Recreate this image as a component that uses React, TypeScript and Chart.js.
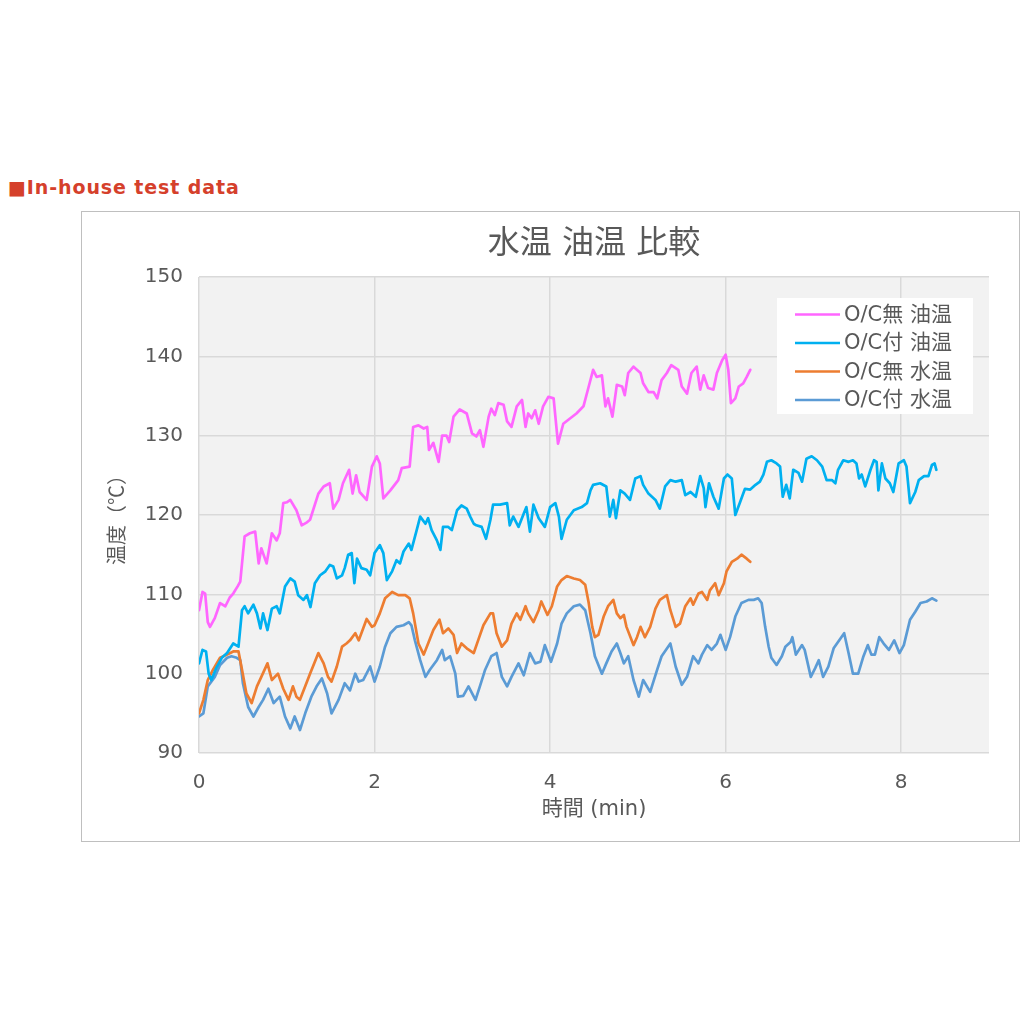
import React, { useEffect, useRef } from "react";
import { Chart, registerables } from "chart.js";

Chart.register(...registerables);

const FONT_UI = '"DejaVu Sans", "Noto Sans CJK JP", sans-serif';
const FONT_CJK = '"Noto Sans CJK JP", sans-serif';
const TEXT = "#595959";

const chartTitle = "水温 油温 比較";
const xTitle = "時間 (min)";
const yTitle = "温度（℃）";
const seriesLabels = ["O/C無 油温", "O/C付 油温", "O/C無 水温", "O/C付 水温"];
const seriesColors = ["#FF66FF", "#00B0F0", "#ED7D31", "#5B9BD5"];

// O/C無 油温
const pinkX = [0, 0.04, 0.07, 0.1, 0.125, 0.18, 0.24, 0.3, 0.35, 0.39, 0.44, 0.47, 0.52, 0.58, 0.64, 0.68, 0.71, 0.77, 0.83, 0.885, 0.92, 0.96, 1.0, 1.04, 1.11, 1.17, 1.22, 1.265, 1.36, 1.42, 1.49, 1.53, 1.59, 1.64, 1.71, 1.75, 1.79, 1.83, 1.91, 1.97, 2.025, 2.06, 2.1, 2.18, 2.27, 2.31, 2.4, 2.44, 2.5, 2.56, 2.6, 2.62, 2.67, 2.73, 2.77, 2.82, 2.85, 2.9, 2.97, 3.05, 3.11, 3.16, 3.2, 3.24, 3.3, 3.33, 3.37, 3.41, 3.47, 3.51, 3.56, 3.62, 3.68, 3.72, 3.75, 3.79, 3.83, 3.87, 3.92, 3.98, 4.04, 4.06, 4.09, 4.15, 4.23, 4.3, 4.38, 4.44, 4.49, 4.53, 4.59, 4.63, 4.66, 4.71, 4.76, 4.82, 4.85, 4.89, 4.95, 5.03, 5.06, 5.12, 5.18, 5.22, 5.27, 5.33, 5.38, 5.46, 5.5, 5.56, 5.61, 5.67, 5.71, 5.75, 5.8, 5.86, 5.9, 5.96, 6.0, 6.03, 6.06, 6.11, 6.15, 6.2, 6.24, 6.28];
const pinkY = [108.0, 110.3, 110.1, 106.5, 105.9, 107.0, 108.9, 108.5, 109.6, 110.1, 111.0, 111.6, 117.3, 117.7, 117.9, 113.9, 115.8, 113.9, 117.7, 116.8, 117.7, 121.5, 121.6, 121.9, 120.6, 118.7, 119.0, 119.4, 122.7, 123.6, 124.0, 120.8, 121.9, 124.0, 125.7, 122.7, 125.0, 122.9, 121.9, 126.1, 127.4, 126.5, 122.1, 123.1, 124.4, 125.9, 126.1, 131.1, 131.3, 130.9, 131.1, 128.2, 129.1, 126.7, 130.0, 130.0, 129.2, 132.4, 133.3, 132.8, 130.3, 129.9, 130.7, 128.6, 132.4, 133.4, 132.6, 134.1, 133.9, 131.8, 131.1, 133.7, 134.5, 131.1, 132.8, 132.2, 133.2, 131.5, 133.7, 134.9, 134.7, 132.4, 129.0, 131.5, 132.2, 132.8, 133.7, 136.2, 138.3, 137.4, 137.6, 133.7, 134.7, 132.4, 136.4, 136.2, 135.1, 137.9, 138.7, 137.9, 136.6, 135.5, 135.5, 134.7, 137.0, 137.9, 138.9, 138.3, 136.2, 135.3, 137.9, 138.7, 135.8, 137.6, 136.0, 135.8, 137.9, 139.5, 140.2, 138.3, 134.1, 134.7, 136.2, 136.6, 137.4, 138.3];

// O/C付 油温
const cyanX = [0, 0.04, 0.08, 0.11, 0.14, 0.2, 0.26, 0.32, 0.39, 0.45, 0.49, 0.52, 0.56, 0.62, 0.66, 0.7, 0.73, 0.78, 0.83, 0.885, 0.92, 0.98, 1.04, 1.09, 1.13, 1.19, 1.23, 1.27, 1.32, 1.38, 1.44, 1.49, 1.53, 1.57, 1.63, 1.66, 1.7, 1.74, 1.77, 1.8, 1.85, 1.91, 1.95, 2.0, 2.06, 2.1, 2.14, 2.2, 2.25, 2.29, 2.33, 2.39, 2.42, 2.48, 2.52, 2.58, 2.61, 2.65, 2.71, 2.75, 2.78, 2.84, 2.88, 2.94, 2.99, 3.05, 3.09, 3.13, 3.16, 3.22, 3.27, 3.32, 3.35, 3.43, 3.51, 3.54, 3.58, 3.64, 3.7, 3.73, 3.77, 3.81, 3.87, 3.94, 4.0, 4.06, 4.1, 4.13, 4.19, 4.27, 4.36, 4.42, 4.46, 4.49, 4.57, 4.64, 4.68, 4.72, 4.75, 4.8, 4.85, 4.91, 4.97, 5.03, 5.06, 5.12, 5.2, 5.25, 5.31, 5.37, 5.43, 5.5, 5.54, 5.6, 5.66, 5.71, 5.75, 5.77, 5.81, 5.86, 5.92, 5.98, 6.02, 6.07, 6.11, 6.17, 6.22, 6.28, 6.34, 6.39, 6.43, 6.47, 6.52, 6.58, 6.62, 6.65, 6.69, 6.73, 6.77, 6.83, 6.87, 6.92, 6.98, 7.04, 7.1, 7.15, 7.21, 7.25, 7.28, 7.34, 7.4, 7.45, 7.49, 7.52, 7.55, 7.59, 7.65, 7.69, 7.72, 7.74, 7.78, 7.82, 7.87, 7.91, 7.97, 8.03, 8.06, 8.1, 8.16, 8.2, 8.26, 8.31, 8.35, 8.38, 8.4];
const cyanY = [101.3, 103.0, 102.8, 100.0, 99.2, 100.8, 102.0, 102.6, 103.8, 103.4, 108.0, 108.5, 107.6, 108.7, 107.6, 105.7, 107.6, 105.5, 108.2, 108.5, 107.6, 111.0, 112.0, 111.6, 109.9, 109.3, 109.9, 108.4, 111.4, 112.4, 112.9, 113.7, 113.5, 112.0, 112.4, 113.3, 115.0, 115.2, 111.4, 114.5, 113.3, 113.1, 112.4, 115.2, 116.2, 115.2, 111.8, 112.9, 114.3, 113.9, 115.4, 116.4, 115.6, 118.1, 119.8, 118.9, 119.6, 118.1, 116.8, 115.6, 118.5, 118.5, 118.1, 120.6, 121.2, 120.8, 119.8, 118.9, 118.7, 118.5, 117.0, 119.4, 121.3, 121.3, 121.5, 118.7, 119.8, 118.5, 120.2, 121.0, 117.9, 121.3, 119.6, 118.5, 121.0, 121.5, 119.8, 117.0, 119.4, 120.6, 121.0, 121.5, 123.1, 123.8, 124.0, 123.6, 119.8, 121.9, 119.6, 123.1, 122.7, 121.9, 124.6, 124.9, 123.8, 122.7, 121.9, 120.8, 123.6, 124.4, 124.2, 124.4, 122.5, 122.9, 122.3, 124.9, 123.4, 121.0, 124.0, 122.3, 120.8, 124.6, 125.1, 124.6, 120.0, 121.8, 123.3, 123.2, 123.8, 124.2, 125.1, 126.7, 126.9, 126.5, 126.1, 122.3, 123.8, 122.1, 125.7, 125.3, 124.2, 127.1, 127.4, 126.9, 126.1, 124.4, 124.4, 124.0, 125.7, 126.9, 126.7, 126.9, 126.5, 124.6, 125.1, 123.6, 125.7, 126.9, 126.7, 123.1, 126.5, 124.6, 124.0, 122.9, 126.5, 126.9, 126.1, 121.5, 122.9, 124.4, 124.9, 124.9, 126.3, 126.5, 125.7];

// O/C無 水温
const orangeX = [0, 0.05, 0.1, 0.16, 0.24, 0.32, 0.39, 0.45, 0.49, 0.54, 0.6, 0.66, 0.71, 0.78, 0.83, 0.9, 0.96, 1.02, 1.07, 1.11, 1.15, 1.21, 1.265, 1.32, 1.36, 1.42, 1.47, 1.51, 1.57, 1.63, 1.68, 1.72, 1.78, 1.82, 1.87, 1.91, 1.97, 2.0, 2.06, 2.12, 2.2, 2.27, 2.35, 2.4, 2.44, 2.5, 2.56, 2.61, 2.67, 2.74, 2.78, 2.84, 2.9, 2.94, 2.99, 3.05, 3.13, 3.18, 3.24, 3.32, 3.35, 3.39, 3.45, 3.51, 3.56, 3.62, 3.66, 3.72, 3.75, 3.81, 3.87, 3.9, 3.97, 4.02, 4.08, 4.13, 4.19, 4.27, 4.34, 4.4, 4.44, 4.48, 4.51, 4.55, 4.61, 4.66, 4.72, 4.76, 4.8, 4.84, 4.87, 4.95, 4.99, 5.03, 5.08, 5.14, 5.2, 5.25, 5.33, 5.37, 5.43, 5.48, 5.54, 5.6, 5.63, 5.69, 5.73, 5.79, 5.82, 5.88, 5.92, 5.98, 6.01, 6.07, 6.13, 6.18, 6.24, 6.28];
const orangeY = [95.0, 96.7, 99.2, 100.5, 102.0, 102.4, 102.8, 102.8, 100.5, 97.5, 96.3, 98.4, 99.6, 101.3, 99.2, 100.0, 98.1, 96.7, 98.4, 97.1, 96.7, 98.4, 100.0, 101.5, 102.6, 101.3, 99.6, 99.0, 100.9, 103.4, 103.8, 104.2, 105.1, 104.2, 105.7, 106.9, 105.9, 106.1, 107.6, 109.5, 110.3, 109.9, 109.9, 109.5, 107.6, 103.8, 102.4, 103.8, 105.5, 106.8, 105.1, 105.7, 104.9, 102.6, 103.8, 103.2, 102.6, 104.2, 106.1, 107.6, 107.6, 105.1, 103.4, 104.2, 106.3, 107.6, 106.8, 108.5, 107.6, 106.5, 108.0, 109.1, 107.4, 108.5, 111.0, 111.8, 112.3, 112.0, 111.8, 111.2, 108.9, 105.9, 104.6, 104.9, 107.2, 108.5, 109.3, 107.6, 107.0, 107.4, 105.9, 103.6, 104.6, 105.9, 104.6, 105.9, 108.2, 109.3, 109.9, 108.0, 105.9, 106.3, 108.5, 109.5, 108.7, 110.1, 110.3, 109.3, 110.5, 111.4, 109.9, 111.4, 112.9, 114.1, 114.5, 115.0, 114.5, 114.1];

// O/C付 水温
const blueX = [0, 0.05, 0.1, 0.18, 0.24, 0.32, 0.37, 0.43, 0.47, 0.5, 0.56, 0.62, 0.68, 0.73, 0.79, 0.85, 0.92, 0.98, 1.04, 1.09, 1.15, 1.21, 1.28, 1.34, 1.4, 1.46, 1.51, 1.59, 1.66, 1.72, 1.78, 1.82, 1.87, 1.95, 2.0, 2.06, 2.12, 2.18, 2.25, 2.33, 2.39, 2.42, 2.46, 2.52, 2.58, 2.63, 2.71, 2.77, 2.8, 2.86, 2.92, 2.95, 3.01, 3.07, 3.15, 3.2, 3.26, 3.33, 3.39, 3.45, 3.51, 3.56, 3.64, 3.7, 3.77, 3.83, 3.89, 3.94, 4.01, 4.08, 4.13, 4.19, 4.27, 4.34, 4.4, 4.46, 4.51, 4.59, 4.64, 4.7, 4.76, 4.8, 4.84, 4.89, 4.95, 5.01, 5.06, 5.14, 5.22, 5.27, 5.37, 5.43, 5.5, 5.56, 5.63, 5.69, 5.73, 5.79, 5.84, 5.9, 5.94, 6.0, 6.05, 6.11, 6.18, 6.26, 6.32, 6.37, 6.41, 6.45, 6.49, 6.52, 6.58, 6.64, 6.68, 6.74, 6.76, 6.8, 6.87, 6.9, 6.97, 7.02, 7.06, 7.11, 7.17, 7.23, 7.28, 7.35, 7.4, 7.45, 7.51, 7.57, 7.62, 7.66, 7.7, 7.75, 7.8, 7.86, 7.92, 7.98, 8.03, 8.1, 8.16, 8.22, 8.29, 8.35, 8.4];
const blueY = [94.6, 95.0, 98.4, 99.6, 101.1, 102.0, 102.2, 102.0, 101.7, 98.8, 95.8, 94.6, 95.8, 96.7, 98.1, 96.3, 97.1, 94.6, 93.1, 94.6, 92.9, 95.0, 97.1, 98.4, 99.4, 97.5, 95.0, 96.7, 98.8, 97.9, 100.0, 99.0, 99.2, 100.9, 99.0, 100.9, 103.4, 105.1, 105.9, 106.1, 106.5, 106.1, 104.2, 101.7, 99.6, 100.5, 101.7, 103.0, 101.7, 102.2, 100.0, 97.1, 97.2, 98.4, 96.7, 98.4, 100.5, 102.2, 102.6, 99.6, 98.4, 99.6, 101.3, 99.8, 102.6, 101.3, 101.5, 103.6, 101.5, 103.8, 106.3, 107.6, 108.5, 108.7, 108.0, 105.1, 102.2, 100.0, 101.3, 102.8, 103.8, 102.6, 101.3, 102.2, 99.2, 97.1, 99.2, 97.7, 100.5, 102.2, 103.8, 100.9, 98.6, 99.6, 102.2, 101.3, 102.4, 103.6, 103.0, 103.8, 104.9, 103.0, 104.6, 107.2, 108.9, 109.3, 109.3, 109.5, 108.9, 105.9, 103.4, 102.0, 101.1, 102.2, 103.4, 104.0, 104.6, 102.4, 103.6, 103.0, 99.6, 100.7, 101.7, 99.6, 100.9, 103.2, 104.0, 105.1, 102.6, 100.0, 100.0, 102.2, 103.6, 102.4, 102.4, 104.6, 103.8, 103.0, 104.2, 102.6, 103.6, 106.8, 107.8, 108.9, 109.1, 109.5, 109.2];

const xMin = 0;
const xMax = 9;
const xStep = 2;
const yMin = 90;
const yMax = 150;
const yStep = 10;

const seriesX = [pinkX, cyanX, orangeX, blueX];
const seriesY = [pinkY, cyanY, orangeY, blueY];

const plotBackground = {
  id: "plotBackground",
  beforeDraw(chart: any) {
    const { ctx, chartArea } = chart;
    ctx.save();
    ctx.fillStyle = "#f2f2f2";
    ctx.fillRect(chartArea.left, chartArea.top, chartArea.right - chartArea.left, chartArea.bottom - chartArea.top);
    ctx.restore();
  },
};

const legendBox = {
  id: "legendBox",
  afterDraw(chart: any) {
    const { ctx, chartArea } = chart;
    const w = 196;
    const h = 116;
    const left = chartArea.right - 16 - w;
    const top = chartArea.top + 21;
    ctx.save();
    ctx.fillStyle = "#ffffff";
    ctx.fillRect(left, top, w, h);
    ctx.font = `21px ${FONT_UI}`;
    ctx.textBaseline = "middle";
    ctx.textAlign = "left";
    chart.data.datasets.forEach((ds: any, i: number) => {
      const y = top + 16.5 + i * 28.5;
      ctx.strokeStyle = ds.borderColor;
      ctx.lineWidth = 2.5;
      ctx.beginPath();
      ctx.moveTo(left + 18, y);
      ctx.lineTo(left + 63, y);
      ctx.stroke();
      ctx.fillStyle = TEXT;
      ctx.fillText(ds.label, left + 67, y + 1);
    });
    ctx.restore();
  },
};

function ChartBox() {
  const ref = useRef<HTMLCanvasElement | null>(null);
  useEffect(() => {
    if (!ref.current) return;
    const datasets = seriesLabels.map((label, i) => ({
      label,
      data: seriesX[i].map((x, j) => ({ x, y: seriesY[i][j] })),
      borderColor: seriesColors[i],
      backgroundColor: seriesColors[i],
      borderWidth: 2.7,
      pointRadius: 0,
      tension: 0,
      borderJoinStyle: "round" as const,
      borderCapStyle: "round" as const,
      fill: false,
    }));
    const chart = new Chart(ref.current, {
      type: "line",
      data: { datasets },
      plugins: [plotBackground, legendBox],
      options: {
        animation: false,
        responsive: false,
        devicePixelRatio: 1,
        layout: { padding: { top: 0, right: 30, bottom: 0, left: 0 } },
        plugins: {
          legend: { display: false },
          tooltip: { enabled: false },
          title: {
            display: true,
            text: chartTitle,
            color: TEXT,
            fullSize: false,
            font: { family: FONT_UI, size: 32, weight: "normal" },
            padding: { top: 13.5, bottom: 13.1 },
          },
        },
        scales: {
          x: {
            type: "linear",
            min: xMin,
            max: xMax,
            ticks: {
              stepSize: xStep,
              includeBounds: false,
              color: TEXT,
              padding: 18,
              font: { family: FONT_UI, size: 20 },
            },
            grid: { color: "#d9d9d9", lineWidth: 1.5, drawTicks: false },
            border: { display: false },
            title: {
              display: true,
              text: xTitle,
              color: TEXT,
              font: { family: FONT_UI, size: 21 },
              padding: { top: 0, bottom: 19 },
            },
            afterFit(scale: any) {
              scale.height = 88;
            },
          },
          y: {
            type: "linear",
            min: yMin,
            max: yMax,
            ticks: {
              stepSize: yStep,
              color: TEXT,
              padding: 16,
              font: { family: FONT_UI, size: 20 },
            },
            grid: { color: "#d9d9d9", lineWidth: 1.5, drawTicks: false },
            border: { display: false },
            title: {
              display: true,
              text: yTitle,
              color: TEXT,
              font: { family: FONT_CJK, size: 20 },
              padding: { top: 22, bottom: 0 },
            },
            afterFit(scale: any) {
              scale.width = 117;
            },
          },
        },
      },
    });
    return () => chart.destroy();
  }, []);
  return <canvas ref={ref} width={937} height={629} style={{ display: "block", width: 937, height: 629 }} />;
}

export default function App() {
  return (
    <div>
      <div
        style={{
          position: "absolute",
          left: 8,
          top: 176,
          fontFamily: '"DejaVu Sans", sans-serif',
          fontWeight: "bold",
          fontSize: 19,
          lineHeight: "23px",
          letterSpacing: "0.9px",
          color: "#d5402b",
          whiteSpace: "nowrap",
        }}
      >
        ■In-house test data
      </div>
      <div
        style={{
          position: "absolute",
          left: 81,
          top: 211,
          width: 939,
          height: 631,
          border: "1px solid #bfbfbf",
          boxSizing: "border-box",
          background: "#ffffff",
        }}
      >
        <ChartBox />
      </div>
    </div>
  );
}
